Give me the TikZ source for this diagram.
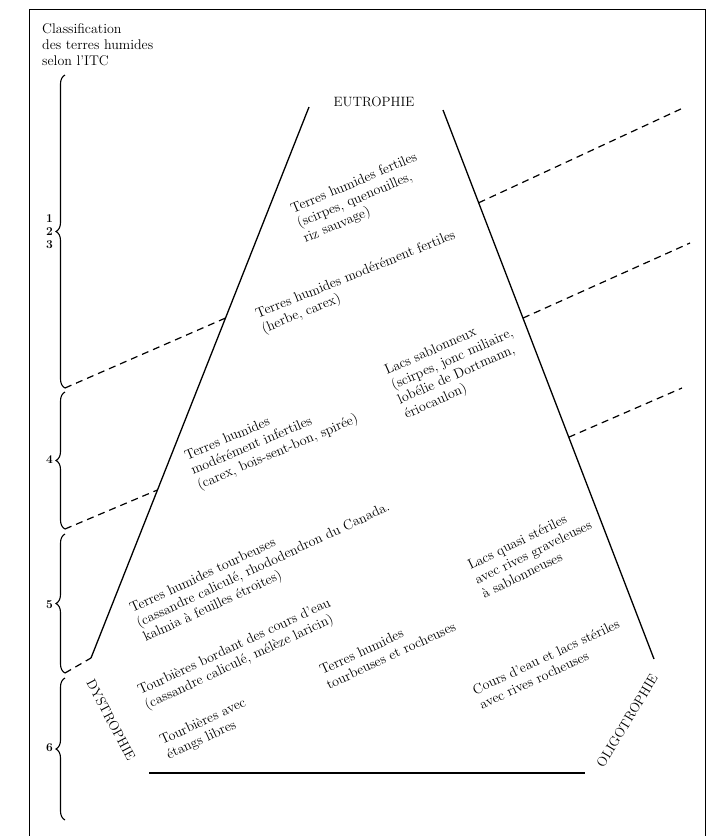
\documentclass[tikz,border=0pt]{standalone}
\usetikzlibrary{calc,decorations.pathreplacing}

\begin{document}
\begin{tikzpicture}[x=1pt,y=1pt,
  trait/.style={line width=1.3pt},
  tiret/.style={line width=1.2pt,dash pattern=on 7pt off 5pt},
  accol/.style={decorate,decoration={brace,amplitude=9pt},line width=1.1pt},
  txt/.style={align=left,inner sep=0pt,anchor=north west,font=\fontsize{14}{16}\selectfont},
  zone/.style={inner sep=0pt,font=\fontsize{13.5}{16}\selectfont},
  num/.style={inner sep=0pt,anchor=east,align=center,font=\fontsize{12}{13}\selectfont\bfseries}]

\useasboundingbox (0,0) rectangle (712,-836);

\draw[line width=0.9pt] (29,-836) -- (29,-9) -- (705,-9) -- (705,-836);

\node[txt] (titre) at (42,-23) {Classification\\des terres humides\\selon l'ITC};

\coordinate (a1) at (65,-75);
\coordinate (a2) at (65,-388);
\coordinate (b1) at (65,-392);
\coordinate (b2) at (65,-529);
\coordinate (c1) at (65,-534);
\coordinate (c2) at (65,-673);
\coordinate (d1) at (65,-678);
\coordinate (d2) at (65,-820);

\draw[accol] (a2) -- (a1);
\draw[accol] (b2) -- (b1);
\draw[accol] (c2) -- (c1);
\draw[accol] (d2) -- (d1);

\node[num] (n123) at (53,-232) {1\\2\\3};
\node[num] (n4) at (53,-460) {4};
\node[num] (n5) at (53,-605) {5};
\node[num] (n6) at (53,-748) {6};

\coordinate (E1) at (309,-107);
\coordinate (E2) at (443,-110);
\coordinate (D1) at (91,-658);
\coordinate (O1) at (654,-659);
\coordinate (F1) at (149,-773);
\coordinate (F2) at (585,-773);

\draw[trait] (E1) -- (D1);
\draw[trait] (E2) -- (O1);
\draw[trait] (F1) -- (F2);

\coordinate (r1) at (683,-108);
\coordinate (r2) at (690,-243);
\coordinate (r3) at (682,-388);

\draw[tiret] (a2) -- ($(E1)!0.383!(D1)$);
\draw[tiret] (b2) -- ($(E1)!0.695!(D1)$);
\draw[tiret] (c2) -- (D1);
\draw[tiret] ($(E2)!0.169!(O1)$) -- (r1);
\draw[tiret] ($(E2)!0.379!(O1)$) -- (r2);
\draw[tiret] ($(E2)!0.596!(O1)$) -- (r3);

\node[zone] (eu) at (374,-102) {EUTROPHIE};
\node[zone,rotate=-62] (dy) at (111,-720) {DYSTROPHIE};
\node[zone,rotate=59] (ol) at (627,-721) {OLIGOTROPHIE};

\node[txt,rotate=23] (t1) at (289,-204) {Terres humides fertiles\\(scirpes, quenouilles,\\riz sauvage)};
\node[txt,rotate=22] (t2) at (254,-309) {Terres humides modérément fertiles\\(herbe, carex)};
\node[txt,rotate=24] (t3) at (383,-366) {Lacs sablonneux\\(scirpes, jonc miliaire,\\lobélie de Dortmann,\\ériocaulon)};
\node[txt,rotate=23] (t4) at (183,-451) {Terres humides\\modérément infertiles\\(carex, bois-sent-bon, spirée)};
\node[txt,rotate=25] (t5) at (128,-604) {Terres humides tourbeuses\\(cassandre caliculé, rhododendron du Canada.\\kalmia à feuilles étroites)};
\node[txt,rotate=25] (t6) at (136,-686) {Tourbières bordant des cours d'eau\\(cassandre caliculé, mélèze laricin)};
\node[txt,rotate=25] (t7) at (318,-666) {Terres humides\\tourbeuses et rocheuses};
\node[txt,rotate=25] (t8) at (158,-736) {Tourbières avec\\étangs libres};
\node[txt,rotate=26] (t9) at (466,-561) {Lacs quasi stériles\\avec rives graveleuses\\à sablonneuses};
\node[txt,rotate=25] (t10) at (471,-686) {Cours d'eau et lacs stériles\\avec rives rocheuses};

\end{tikzpicture}
\end{document}
